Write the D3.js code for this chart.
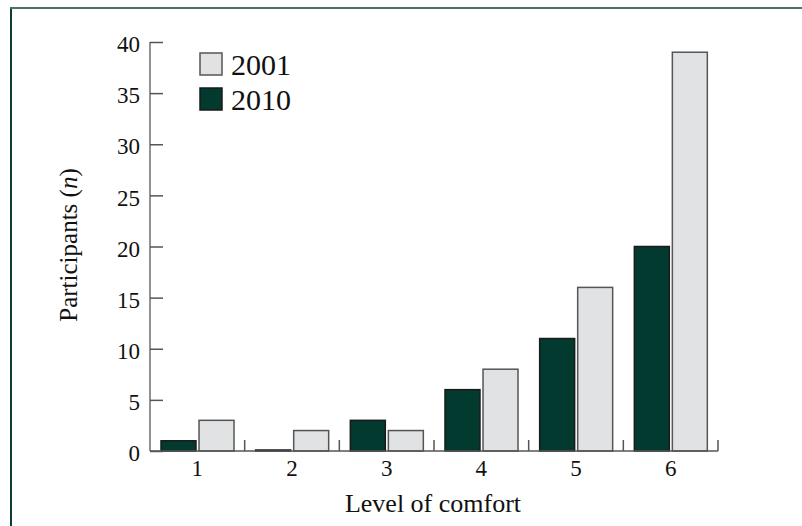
<!DOCTYPE html>
<html>
<head>
<meta charset="utf-8">
<script src="https://cdn.jsdelivr.net/npm/d3@7"></script>
<style>
  html, body { margin: 0; padding: 0; background: #fff; }
  svg { display: block; }
</style>
</head>
<body>
<svg id="chart" width="802" height="526"></svg>
<script>
const categories = ["1", "2", "3", "4", "5", "6"];
const seriesNames = ["2010", "2001"];
const values2010 = [1, 0, 3, 6, 11, 20];
const values2001 = [3, 2, 2, 8, 16, 39];
const yTicks = [0, 5, 10, 15, 20, 25, 30, 35, 40];
const legendOrder = ["2001", "2010"];

(function () {
const FONT = "'Liberation Serif', 'Times New Roman', serif";
const colors = { "2010": "#033a2f", "2001": "#e1e2e4" };
const strokes = { "2010": "#1a1a1a", "2001": "#555" };
const seriesValues = { "2010": values2010, "2001": values2001 };

const svg = d3.select("#chart");

// frame
svg.append("line").attr("x1", 11).attr("x2", 11).attr("y1", 8).attr("y2", 526)
  .attr("stroke", "#0d3d30").attr("stroke-width", 2);
svg.append("line").attr("x1", 10).attr("x2", 802).attr("y1", 8).attr("y2", 8)
  .attr("stroke", "#4b7266").attr("stroke-width", 2);

const mLeft = 150, mRight = 718, mTop = 42, mBottom = 451;

const x = d3.scaleBand().domain(categories).range([mLeft, mRight]).padding(0);
const x1 = d3.scaleBand().domain(seriesNames).range([11, 84]).paddingInner(0.08);
const y = d3.scaleLinear().domain([0, 40]).range([mBottom, mTop]);

// bars
const g = svg.append("g");
categories.forEach((c, i) => {
  seriesNames.forEach(s => {
    const v = seriesValues[s][i];
    const h = y(0) - y(v);
    g.append("rect")
      .attr("x", x(c) + x1(s))
      .attr("y", h > 0 ? y(v) : y(0) - 1)
      .attr("width", x1.bandwidth())
      .attr("height", h > 0 ? h : 1)
      .attr("fill", colors[s])
      .attr("stroke", strokes[s])
      .attr("stroke-width", 1.5);
  });
});

// y axis
const yAxis = svg.append("g").attr("transform", `translate(${mLeft},0)`)
  .call(d3.axisLeft(y).tickValues(yTicks).tickSize(-13).tickPadding(10).tickFormat(d3.format("d")));
yAxis.attr("font-family", FONT).attr("font-size", 23);
yAxis.select(".domain").attr("stroke", "#777").attr("stroke-width", 1.6).attr("d", `M0,${mTop}V${mBottom}`);
yAxis.selectAll(".tick line").attr("stroke", "#555").attr("stroke-width", 1.5);
yAxis.selectAll(".tick text").attr("fill", "#111").attr("dy", "0.42em");

// x axis
const xAxis = svg.append("g").attr("transform", `translate(0,${mBottom})`)
  .call(d3.axisBottom(x).tickSize(0).tickPadding(9));
xAxis.attr("font-family", FONT).attr("font-size", 23);
xAxis.select(".domain").attr("stroke", "#555").attr("stroke-width", 1.6).attr("d", `M${mLeft},0H${mRight}`);
xAxis.selectAll(".tick text").attr("fill", "#111");
xAxis.selectAll(".bnd").data(categories).enter().append("line")
  .attr("x1", d => x(d) + x.bandwidth()).attr("x2", d => x(d) + x.bandwidth())
  .attr("y1", 0).attr("y2", -11)
  .attr("stroke", "#555").attr("stroke-width", 1.5);

// axis titles
svg.append("text").attr("x", 433).attr("y", 512).attr("text-anchor", "middle")
  .attr("font-family", FONT).attr("fill", "#111")
  .attr("font-size", 26).text("Level of comfort");
const yl = svg.append("text").attr("transform", "translate(77,245) rotate(-90)")
  .attr("font-family", FONT).attr("fill", "#111")
  .attr("text-anchor", "middle").attr("font-size", 25);
yl.append("tspan").text("Participants (");
yl.append("tspan").attr("font-style", "italic").text("n");
yl.append("tspan").text(")");

// legend
const lg = svg.append("g");
legendOrder.forEach((s, i) => {
  const yy = 53 + i * 35;
  lg.append("rect").attr("x", 200).attr("y", yy).attr("width", 22).attr("height", 22)
    .attr("fill", colors[s]).attr("stroke", strokes[s]).attr("stroke-width", 1.5);
  lg.append("text").attr("x", 231).attr("y", yy + 22).attr("font-size", 30)
    .attr("font-family", FONT).attr("fill", "#111").text(s);
});
})();
</script>
</body>
</html>
